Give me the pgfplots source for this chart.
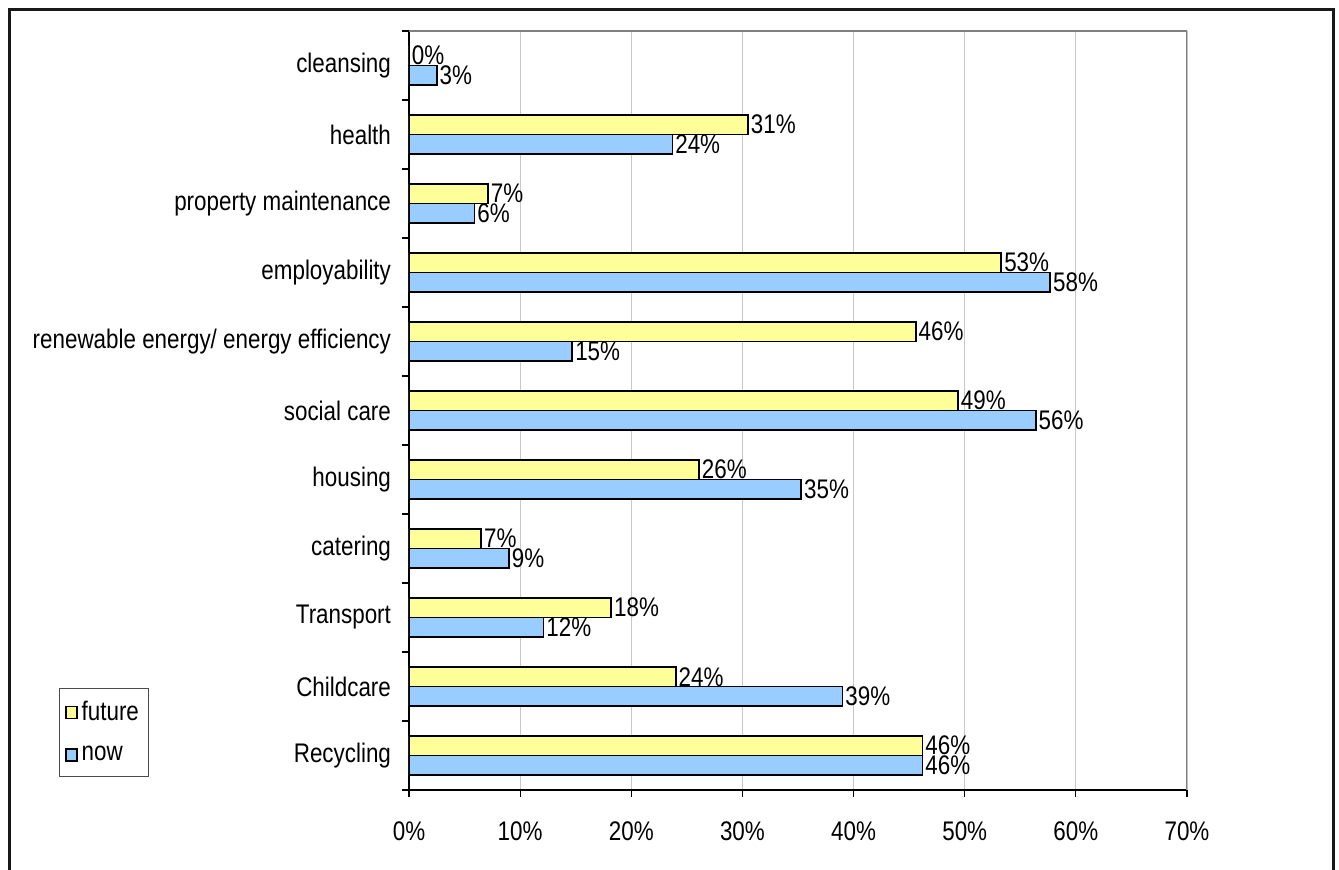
\documentclass[border=0pt]{standalone}
\usepackage{pgfplots}
\pgfplotsset{compat=1.18}
\usepackage{fontspec}
\setmainfont{Liberation Sans}
\definecolor{futurec}{HTML}{FFFF99}
\definecolor{nowc}{HTML}{99CCFF}
\definecolor{gridc}{HTML}{C8C8C8}
\begin{document}
\begin{tikzpicture}
\useasboundingbox (0,0) rectangle (669.5pt,435pt);
\draw[line width=1.5pt, black!90] (4.5pt,0) -- (4.5pt,430pt) -- (666.5pt,430pt) -- (666.5pt,0);
\begin{axis}[
  at={(204.5pt,40pt)}, anchor=south west,
  scale only axis, width=389pt, height=379.5pt,
  xbar, bar width=0.283,
  xmin=0, xmax=70, ymin=-0.5, ymax=10.5,
  axis x line*=bottom, axis y line*=left,
  axis line style={black, line width=0.6pt},
  xtick={0,10,...,70},
  xticklabels={0\%,10\%,20\%,30\%,40\%,50\%,60\%,70\%},
  ytick={0,...,10},
  yticklabels={Recycling,Childcare,Transport,catering,housing,social care,renewable energy/ energy efficiency,employability,property maintenance,health,cleansing},
  minor ytick={-0.5,0.5,...,10.5},
  major y tick style={draw=none},
  tick align=outside, major tick length=3.5pt, minor tick length=3.5pt,
  tick style={black, line width=0.6pt},
  xmajorgrids, grid style={gridc, line width=0.5pt},
  ticklabel style={font=\fontsize{11.2}{13}\selectfont, yscale=1.2},
  xticklabel style={yshift=-6.6pt},
  yticklabel style={xshift=-2pt},
  nodes near coords={\pgfplotspointmeta\%},
  point meta=explicit symbolic,
  every node near coord/.append style={font=\fontsize{11.2}{13}\selectfont, yscale=1.2, anchor=west, inner sep=1pt, black},
  legend style={at={(axis description cs:-0.4499,0.1344)}, anchor=north west,
    draw=black!70, line width=0.5pt, font=\fontsize{11.2}{13}\selectfont,
    nodes={yscale=1.2},
    inner xsep=3pt, inner ysep=4pt, row sep=6pt, cells={anchor=west}},
  legend image code/.code={\draw[#1, line width=0.6pt] (0pt,-3pt) rectangle (5.5pt,3pt);},
]
\addplot[draw=black, line width=0.9pt, fill=futurec, bar shift=0.1415] coordinates {
(46.2,0) [46] (24.0,1) [24] (18.2,2) [18] (6.5,3) [7] (26.1,4) [26] (49.4,5) [49]
(45.6,6) [46] (53.3,7) [53] (7.1,8) [7] (30.5,9) [31] (0,10) [0]
};
\addplot[draw=black, line width=0.9pt, fill=nowc, bar shift=-0.1415] coordinates {
(46.2,0) [46] (39.0,1) [39] (12.1,2) [12] (9.0,3) [9] (35.3,4) [35] (56.4,5) [56]
(14.7,6) [15] (57.7,7) [58] (5.9,8) [6] (23.7,9) [24] (2.5,10) [3]
};
\legend{future,now}
\draw[gray, line width=0.8pt] (rel axis cs:0,1) -- (rel axis cs:1,1) -- (rel axis cs:1,0);
\end{axis}
\end{tikzpicture}
\end{document}
